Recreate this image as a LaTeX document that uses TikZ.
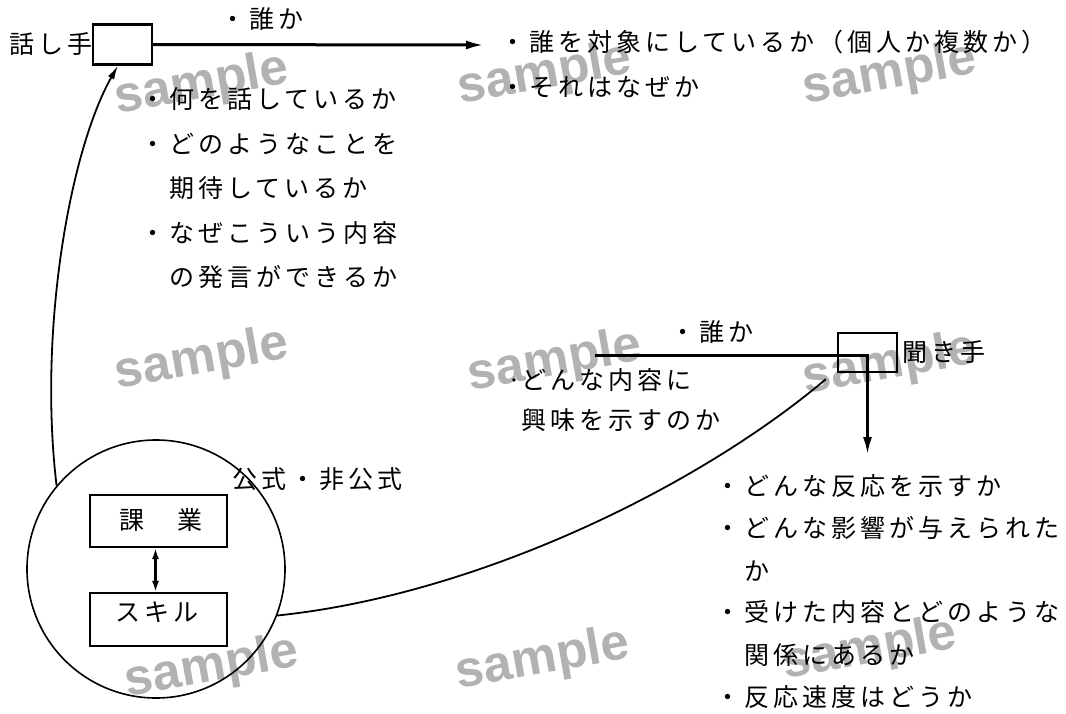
\documentclass[tikz,border=0pt]{standalone}
\usepackage{fontspec}
\newfontfamily\cjk[LetterSpace=16]{Noto Sans CJK JP}
\newfontfamily\wmfont{Liberation Sans}
\usetikzlibrary{arrows.meta}
\begin{document}
\begin{tikzpicture}[x=1pt,y=-1pt,
  jp/.style={font=\cjk\fontsize{25}{30}\selectfont, inner sep=0pt, anchor=west, text height=21pt, text depth=4pt},
  wm/.style={font=\wmfont\bfseries\fontsize{51}{51}\selectfont, text=black!30, rotate=10, inner sep=0pt},
  smallbox/.style={draw, line width=2.2pt, inner sep=0pt},
  bigbox/.style={draw, line width=2.1pt, inner sep=0pt, minimum width=137pt},
  thickarrow/.style={line width=3pt, -{Latex[length=18pt,width=9pt]}},
  curveline/.style={line width=1.8pt},
]
\path[fill=white,use as bounding box] (0,0) rectangle (1066,713);

% watermarks
\node[wm] (w1) at (202,85) {sample};
\node[wm] (w2) at (545,75) {sample};
\node[wm] (w3) at (890,75) {sample};
\node[wm] (w4) at (202,360) {sample};
\node[wm] (w5) at (555,362) {sample};
\node[wm] (w6) at (890,365) {sample};
\node[wm] (w7) at (212,668) {sample};
\node[wm] (w8) at (543,660) {sample};
\node[wm] (w9) at (870,650) {sample};

% speaker
\node[smallbox, minimum width=59pt, minimum height=40pt] (spk) at (122.5,44.5) {};
\node[jp, anchor=east] (spkl) at ([xshift=1pt]spk.west) {話し手};
\coordinate (a1end) at (484,45);
\draw[thickarrow] (spk.east) -- (a1end);
\node[jp] (t0) at (220,20) {・誰か};
\node[jp] (t1) at (500,43) {・誰を対象にしているか（個人か複数か）};
\node[jp] (t2) at (500,88) {・それはなぜか};

% left list
\node[jp] (l1) at (140.5,100) {・何を話しているか};
\node[jp] (l2) at (140.5,144.5) {・どのようなことを};
\node[jp] (l3) at (140.5,189) {　期待しているか};
\node[jp] (l4) at (140.5,233.5) {・なぜこういう内容};
\node[jp] (l5) at (140.5,278) {　の発言ができるか};

% listener
\node[smallbox, minimum width=59pt, minimum height=39pt] (lis) at (867.5,352.5) {};
\node[jp] (lisl) at ([xshift=4pt]lis.east) {聞き手};
\coordinate (lst) at (595,355);
\coordinate (lend) at (867.5,455);
\draw[thickarrow] (lst) -| (lend);
\node[jp] (t8) at (670,333) {・誰か};
\node[jp] (t9) at (521,381) {\llap{·}どんな内容に};
\node[jp] (t10) at (521,421) {興味を示すのか};

% right list
\node[jp] (r1) at (715.5,487) {・どんな反応を示すか};
\node[jp] (r2) at (715.5,529) {・どんな影響が与えられた};
\node[jp] (r3) at (715.5,572) {　か};
\node[jp] (r4) at (715.5,613) {・受けた内容とどのような};
\node[jp] (r5) at (715.5,656) {　関係にあるか};
\node[jp] (r6) at (715.5,698) {・反応速度はどうか};

% circle and inner boxes
\node[draw, circle, minimum size=258pt, inner sep=0pt, line width=1.6pt] (circ) at (156,569) {};
\node[jp] (kk) at (232,480) {公式・非公式};
\node[bigbox, minimum height=52pt] (kag) at (158.5,521) {};
\node[bigbox, minimum height=53pt] (sk) at (158.5,619.5) {};
\node[jp, anchor=center] (kagt) at ([xshift=2pt]kag.center) {課　業};
\node[jp, anchor=center] (skt) at ([xshift=-2pt,yshift=7pt]sk.center) {スキル};
\draw[line width=2.6pt, {Latex[length=11pt,width=7pt]}-{Latex[length=11pt,width=7pt]}] ([xshift=-3pt]kag.south) -- ([xshift=-3pt]sk.north);

% curves
\draw[curveline, -{Latex[length=14pt,width=7pt]}] (circ.140) .. controls (38,330) and (70,150) .. ([xshift=-4.5pt]spk.south);
\draw[curveline] (circ.-21) .. controls (476,595) and (697,488) .. ([xshift=-11pt,yshift=-6pt]lis.south west);
\end{tikzpicture}
\end{document}
